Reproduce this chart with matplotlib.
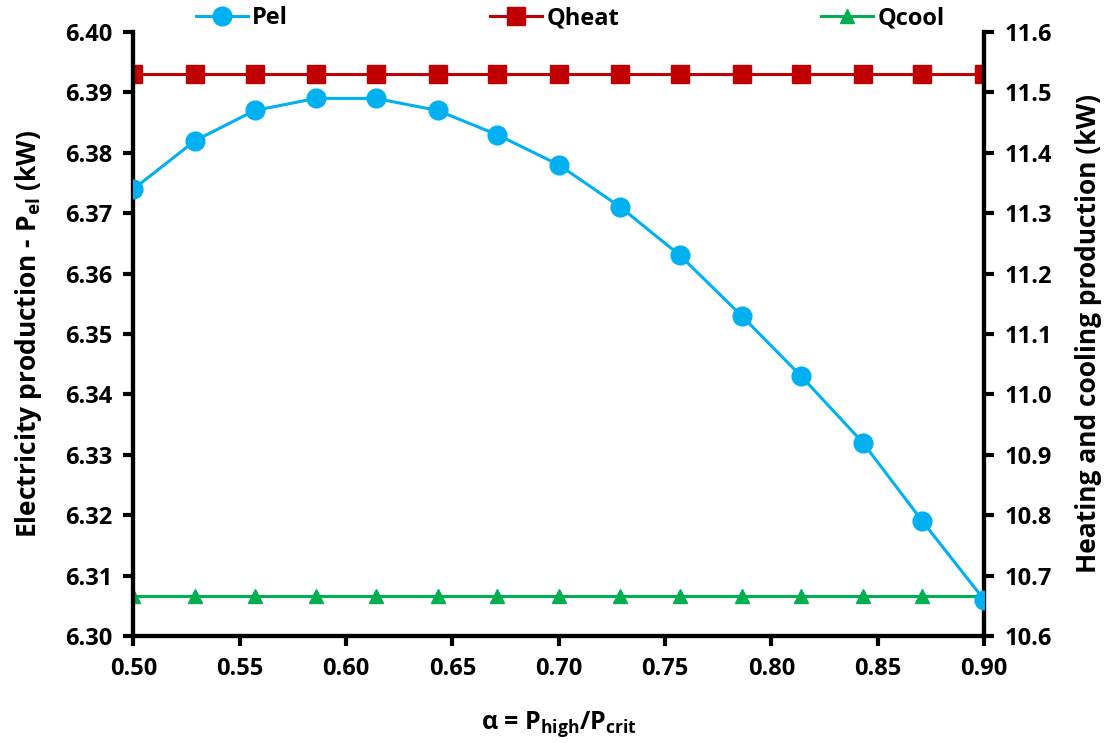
import matplotlib.pyplot as plt
import numpy as np

plt.rcParams['font.family'] = ['Open Sans', 'DejaVu Sans']
plt.rcParams['font.weight'] = 'bold'
plt.rcParams['mathtext.fontset'] = 'custom'
plt.rcParams['mathtext.rm'] = 'Open Sans:bold'
plt.rcParams['mathtext.it'] = 'Open Sans:bold'
plt.rcParams['mathtext.bf'] = 'Open Sans:bold'
plt.rcParams['mathtext.default'] = 'rm'

# data
alpha = [0.500, 0.529, 0.557, 0.586, 0.614, 0.643, 0.671, 0.700,
         0.729, 0.757, 0.786, 0.814, 0.843, 0.871, 0.900]
pel = [6.374, 6.382, 6.387, 6.389, 6.389, 6.387, 6.383, 6.378,
       6.371, 6.363, 6.353, 6.343, 6.332, 6.319, 6.306]
qheat = [11.53] * 15
qcool = [10.667] * 15

fig, ax = plt.subplots(figsize=(11.12, 7.43), dpi=100)
fig.subplots_adjust(left=0.12, right=0.885, top=0.957, bottom=0.144)
ax2 = ax.twinx()

l1, = ax.plot(alpha, pel, color='#00B0F0', marker='o', markersize=13.5,
              linewidth=2.2, label='Pel', zorder=3)
l2, = ax2.plot(alpha, qheat, color='#C00000', marker='s', markersize=13.5,
               linewidth=2.2, label='Qheat')
l3, = ax2.plot(alpha, qcool, color='#00B050', marker='^', markersize=10,
               linewidth=2.2, label='Qcool')
ax.set_zorder(ax2.get_zorder() + 1)
ax.patch.set_visible(False)

ax.set_xlim(0.5, 0.9)
ax.set_ylim(6.30, 6.40)
ax2.set_ylim(10.6, 11.6)
ax.set_xticks(np.arange(0.50, 0.901, 0.05))
ax.set_yticks(np.arange(6.30, 6.401, 0.01))
ax2.set_yticks(np.arange(10.6, 11.61, 0.1))
ax.xaxis.set_major_formatter(plt.FormatStrFormatter('%.2f'))
ax.yaxis.set_major_formatter(plt.FormatStrFormatter('%.2f'))
ax2.yaxis.set_major_formatter(plt.FormatStrFormatter('%.1f'))

for a in (ax, ax2):
    a.spines['top'].set_visible(False)
    for s in a.spines.values():
        s.set_linewidth(3)
    a.tick_params(labelsize=17, width=3, length=7, direction='out', pad=8)
    for t in a.get_xticklabels() + a.get_yticklabels():
        t.set_fontweight('bold')

ax.set_xlabel(r'α = P$_{high}$/P$_{crit}$', fontsize=18, fontweight='bold', labelpad=20)
ax.set_ylabel(r'Electricity production - P$_{el}$ (kW)', fontsize=19,
              fontweight='bold', labelpad=15)
ax2.set_ylabel('Heating and cooling production (kW)', fontsize=19,
               fontweight='bold', labelpad=16)

fig.legend(handles=[l1, l2, l3], loc='upper center', ncol=3, frameon=False,
           prop={'size': 17, 'weight': 'bold'}, bbox_to_anchor=(0.513, 1.02),
           columnspacing=8.55, handlelength=2.2, handletextpad=0.2)

fig.savefig('out.png', dpi=100)
